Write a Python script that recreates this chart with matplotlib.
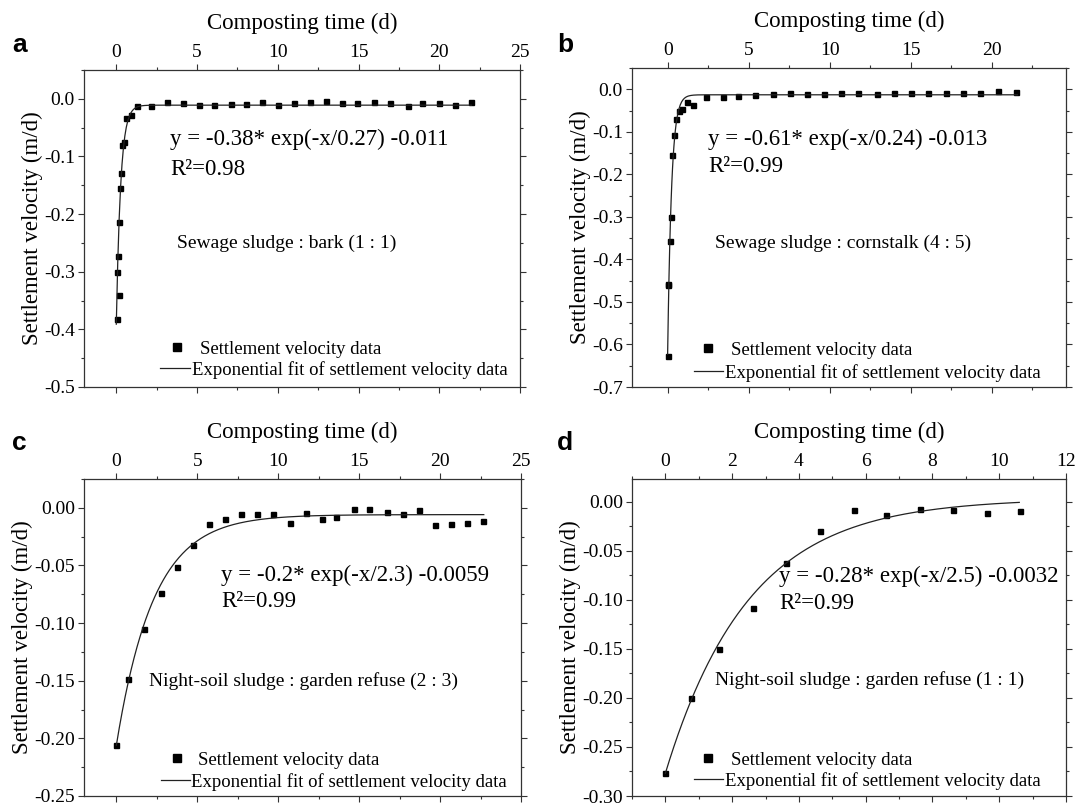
import numpy as np
import matplotlib.pyplot as plt
from matplotlib.ticker import MultipleLocator, FormatStrFormatter

plt.rcParams['font.family'] = ['Liberation Serif', 'DejaVu Serif']
plt.rcParams['axes.unicode_minus'] = False

# ---- data ----
# (a) sewage sludge : bark (1 : 1)
xa = [0.02, 0.14, 0.06, 0.12, 0.18, 0.24, 0.30, 0.36, 0.49, 0.61, 0.92, 1.29, 2.15,
      3.14, 4.13, 5.12, 6.04, 7.1, 8.03, 9.0, 10.0, 10.98, 11.97, 12.96, 14.0, 14.93,
      15.98, 16.97, 18.08, 18.94, 19.99, 20.98, 21.97]
ya = [-0.382, -0.340, -0.300, -0.273, -0.214, -0.155, -0.128, -0.080, -0.075, -0.033,
      -0.028, -0.012, -0.012, -0.005, -0.007, -0.010, -0.010, -0.009, -0.009, -0.005,
      -0.010, -0.008, -0.005, -0.003, -0.008, -0.008, -0.005, -0.008, -0.012, -0.008,
      -0.008, -0.010, -0.006]

# (b) sewage sludge : cornstalk (4 : 5)
xb = [0.0, 0.0, 0.04, 0.15, 0.19, 0.25, 0.37, 0.49, 0.68, 0.91, 1.17, 1.54, 2.35,
      3.40, 4.35, 5.37, 6.48, 7.56, 8.60, 9.67, 10.72, 11.77, 12.90, 13.95, 15.0,
      16.09, 17.19, 18.21, 19.30, 20.41, 21.52]
yb = [-0.628, -0.461, -0.459, -0.356, -0.300, -0.155, -0.108, -0.070, -0.052, -0.0455,
      -0.0305, -0.0376, -0.0188, -0.0188, -0.0164, -0.014, -0.011, -0.008, -0.011,
      -0.011, -0.008, -0.008, -0.011, -0.008, -0.008, -0.008, -0.008, -0.008, -0.008,
      -0.004, -0.0056]

# (c) night-soil sludge : garden refuse (2 : 3)
xc = [0.0, 0.72, 1.73, 2.74, 3.72, 4.73, 5.72, 6.71, 7.70, 8.68, 9.67, 10.72, 11.71,
      12.7, 13.6, 14.67, 15.63, 16.7, 17.7, 18.68, 19.67, 20.66, 21.64, 22.63]
yc = [-0.206, -0.1485, -0.1047, -0.0737, -0.0513, -0.0324, -0.0140, -0.0100, -0.0057,
      -0.0057, -0.0057, -0.0135, -0.0049, -0.0100, -0.0083, -0.0006, -0.0014, -0.0040,
      -0.0057, -0.0023, -0.0146, -0.0138, -0.0129, -0.0117]

# (d) night-soil sludge : garden refuse (1 : 1)
xd = [0.0, 0.77, 1.6, 2.62, 3.6, 4.62, 5.64, 6.61, 7.63, 8.61, 9.63, 10.61]
yd = [-0.277, -0.200, -0.150, -0.108, -0.063, -0.030, -0.009, -0.0135, -0.0071,
      -0.0082, -0.0112, -0.0092]

# exponential fits y = A*exp(-x/t) + y0
fit_A = [-0.38, -0.61, -0.2, -0.28]
fit_t = [0.27, 0.24, 2.3, 2.5]
fit_y0 = [-0.011, -0.013, -0.0059, 0.0032]
fit_xmax = [22.0, 21.6, 22.7, 10.6]

eq_text = ['y = -0.38* exp(-x/0.27) -0.011', 'y = -0.61* exp(-x/0.24) -0.013',
           'y = -0.2* exp(-x/2.3) -0.0059', 'y = -0.28* exp(-x/2.5) -0.0032']
r2_text = ['R\u00b2=0.98', 'R\u00b2=0.99', 'R\u00b2=0.99', 'R\u00b2=0.99']
mix_text = ['Sewage sludge : bark (1 : 1)', 'Sewage sludge : cornstalk (4 : 5)',
            'Night-soil sludge : garden refuse (2 : 3)',
            'Night-soil sludge : garden refuse (1 : 1)']
letters = ['a', 'b', 'c', 'd']

xs = [xa, xb, xc, xd]
ys = [ya, yb, yc, yd]

# ---- layout (pixels) ----
W, H = 1079, 806
boxes = [(84, 70, 520, 387), (632, 68, 1066, 387),
         (84, 479, 521, 796), (632, 479, 1066, 796)]
xlims = [(-2, 25), (-2.2, 24.6), (-2, 25), (-1, 12)]
ylims = [(-0.5, 0.05), (-0.7, 0.05), (-0.25, 0.025), (-0.30, 0.023)]
xmaj = [5, 5, 5, 2]
xmin = [2.5, 2.5, 2.5, 1]
ymaj = [0.1, 0.1, 0.05, 0.05]
ymin = [0.05, 0.05, 0.025, 0.025]
yfmt = ['%.1f', '%.1f', '%.2f', '%.2f']
eq_pos = [(3.35, -0.071), (2.5, -0.119), (6.48, -0.059), (3.41, -0.0765)]
r2_pos = [(3.35, -0.123), (2.5, -0.182), (6.48, -0.081), (3.41, -0.104)]
mix_pos = [(3.78, -0.250), (2.9, -0.362), (1.99, -0.150), (1.49, -0.182)]
# legend geometry in pixels: marker centre x, row y, text x ; line x0, x1, row y, text x
leg1 = [(177, 349, 200), (708, 350, 731), (177, 760, 198), (708, 760, 731)]
leg2 = [(160, 190, 370, 192), (694, 723, 373, 725), (161, 190, 782, 191), (694, 723, 781, 725)]
letter_pos = [(12, 45), (557, 45), (12, 443), (557, 443)]

fig = plt.figure(figsize=(W / 100, H / 100), dpi=100)

for i in range(4):
    l, t, r, b = boxes[i]
    ax = fig.add_axes([l / W, 1 - b / H, (r - l) / W, (b - t) / H])

    pts, = ax.plot(xs[i], ys[i], 's', color='black', ms=3.6, ls='none')
    xf = np.linspace(0, fit_xmax[i], 500)
    yf = fit_A[i] * np.exp(-xf / fit_t[i]) + fit_y0[i]
    ln, = ax.plot(xf, yf, '-', color='#222222', lw=0.9)

    ax.set_xlim(*xlims[i])
    ax.set_ylim(*ylims[i])
    ax.xaxis.set_major_locator(MultipleLocator(xmaj[i]))
    ax.xaxis.set_minor_locator(MultipleLocator(xmin[i]))
    ax.yaxis.set_major_locator(MultipleLocator(ymaj[i]))
    ax.yaxis.set_minor_locator(MultipleLocator(ymin[i]))
    ax.yaxis.set_major_formatter(FormatStrFormatter(yfmt[i]))
    ax.xaxis.set_label_position('top')
    ax.tick_params(which='both', direction='out', top=True, bottom=True, left=True,
                   right=True, labeltop=True, labelbottom=False, labelsize=14,
                   width=0.8, color='#333333')
    ax.tick_params(which='major', length=4, pad=2.5)
    ax.tick_params(which='minor', length=2.5)
    for s in ax.spines.values():
        s.set_linewidth(0.9)
        s.set_color('#333333')

    ax.set_xlabel('Composting time (d)', fontsize=16.5, labelpad=11)
    ax.set_ylabel('Settlement velocity (m/d)', fontsize=16.5, labelpad=1)

    ax.text(*eq_pos[i], eq_text[i], fontsize=16.5, ha='left', va='center')
    ax.text(*r2_pos[i], r2_text[i], fontsize=16.5, ha='left', va='center')
    ax.text(*mix_pos[i], mix_text[i], fontsize=14, ha='left', va='center')

    # two one-row legends, placed like the original
    fs = 13.5
    em = fs * 100 / 72
    mx, my, tx = leg1[i]
    hl = 1.0
    left = mx - hl * em / 2
    lg1 = ax.legend([pts], ['Settlement velocity data'], loc='center left',
                    bbox_to_anchor=((left - l) / (r - l), (b - my) / (b - t)),
                    frameon=False, borderpad=0, borderaxespad=0, handlelength=hl,
                    handletextpad=(tx - left - hl * em) / em, fontsize=fs,
                    markerscale=1.55)
    ax.add_artist(lg1)
    x0, x1, ly, tx2 = leg2[i]
    ax.legend([ln], ['Exponential fit of settlement velocity data'], loc='center left',
              bbox_to_anchor=((x0 - l) / (r - l), (b - ly) / (b - t)),
              frameon=False, borderpad=0, borderaxespad=0,
              handlelength=(x1 - x0) / em, handletextpad=(tx2 - x1) / em, fontsize=fs)

    fig.text(letter_pos[i][0] / W, 1 - letter_pos[i][1] / H, letters[i],
             fontsize=19, fontweight='bold', family='Liberation Sans',
             ha='left', va='center')

fig.savefig('out.png', dpi=100)
